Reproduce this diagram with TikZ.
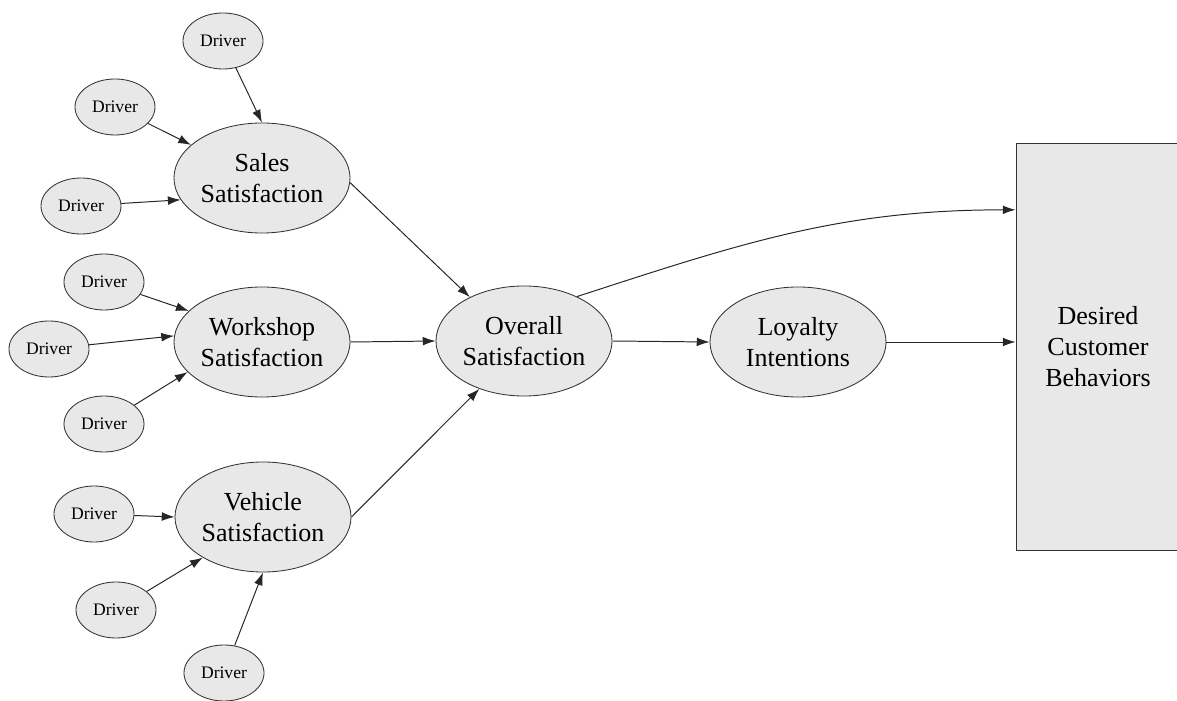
\documentclass[tikz,border=0pt]{standalone}
\usepackage{fontspec}
\setmainfont{Liberation Serif}
\usetikzlibrary{shapes.geometric,arrows.meta,calc}

\begin{document}
\begin{tikzpicture}[x=0.025cm, y=-0.025cm, >={Latex[length=3.2mm,width=2.2mm]},
    big/.style={ellipse, draw=black!80, fill=black!9, line width=0.6pt, inner sep=0pt,
        minimum width=4.4cm, minimum height=2.75cm, align=center,
        font=\fontsize{18.5}{22}\selectfont},
    drv/.style={ellipse, draw=black!80, fill=black!9, line width=0.6pt, inner sep=0pt,
        minimum width=2cm, minimum height=1.4cm, font=\fontsize{12.5}{14}\selectfont},
    link/.style={->, line width=0.7pt, black!85}]
\useasboundingbox (0,0) rectangle (1177,701);
% satisfaction nodes
\node[big] (sales) at (262,178) {Sales\\Satisfaction};
\node[big] (workshop) at (262,342) {Workshop\\Satisfaction};
\node[big] (vehicle) at (263,517) {Vehicle\\Satisfaction};
\node[big] (overall) at (524,341) {Overall\\Satisfaction};
\node[big] (loyalty) at (798,342) {Loyalty\\Intentions};
\node[draw=black!80, fill=black!9, line width=0.6pt, minimum width=4.1cm, minimum height=10.175cm,
    align=center, font=\fontsize{18.5}{22}\selectfont] (behav) at (1098,346.5)
    {Desired\\Customer\\Behaviors};
% drivers
\foreach \n/\x/\y in {1/223/41, 2/115/107, 3/81/206, 4/104/282, 5/49/349, 6/104/424,
    7/94/514, 8/116/610, 9/224/673}
{
\node[drv] (d\n) at (\x,\y) {Driver};
}
\foreach \n/\t in {1/sales.north, 2/sales.155, 3/sales.195, 4/workshop.157, 5/workshop.176,
    6/workshop.202, 7/vehicle.west, 8/vehicle.214, 9/vehicle.south}
{
\draw[link] (d\n) -- (\t);
}
% main paths
\draw[link] (sales.-3) -- (overall.141);
\draw[link] (workshop.east) -- (overall.west);
\draw[link] (vehicle.east) -- (overall.-133);
\draw[link] (overall.east) -- (loyalty.west);
\draw[link] (loyalty.east) -- (loyalty.east -| behav.west);
\draw[link] (overall.40) to[out=18, in=180] ($(behav.north west)!0.165!(behav.south west)$);
\end{tikzpicture}
\end{document}
